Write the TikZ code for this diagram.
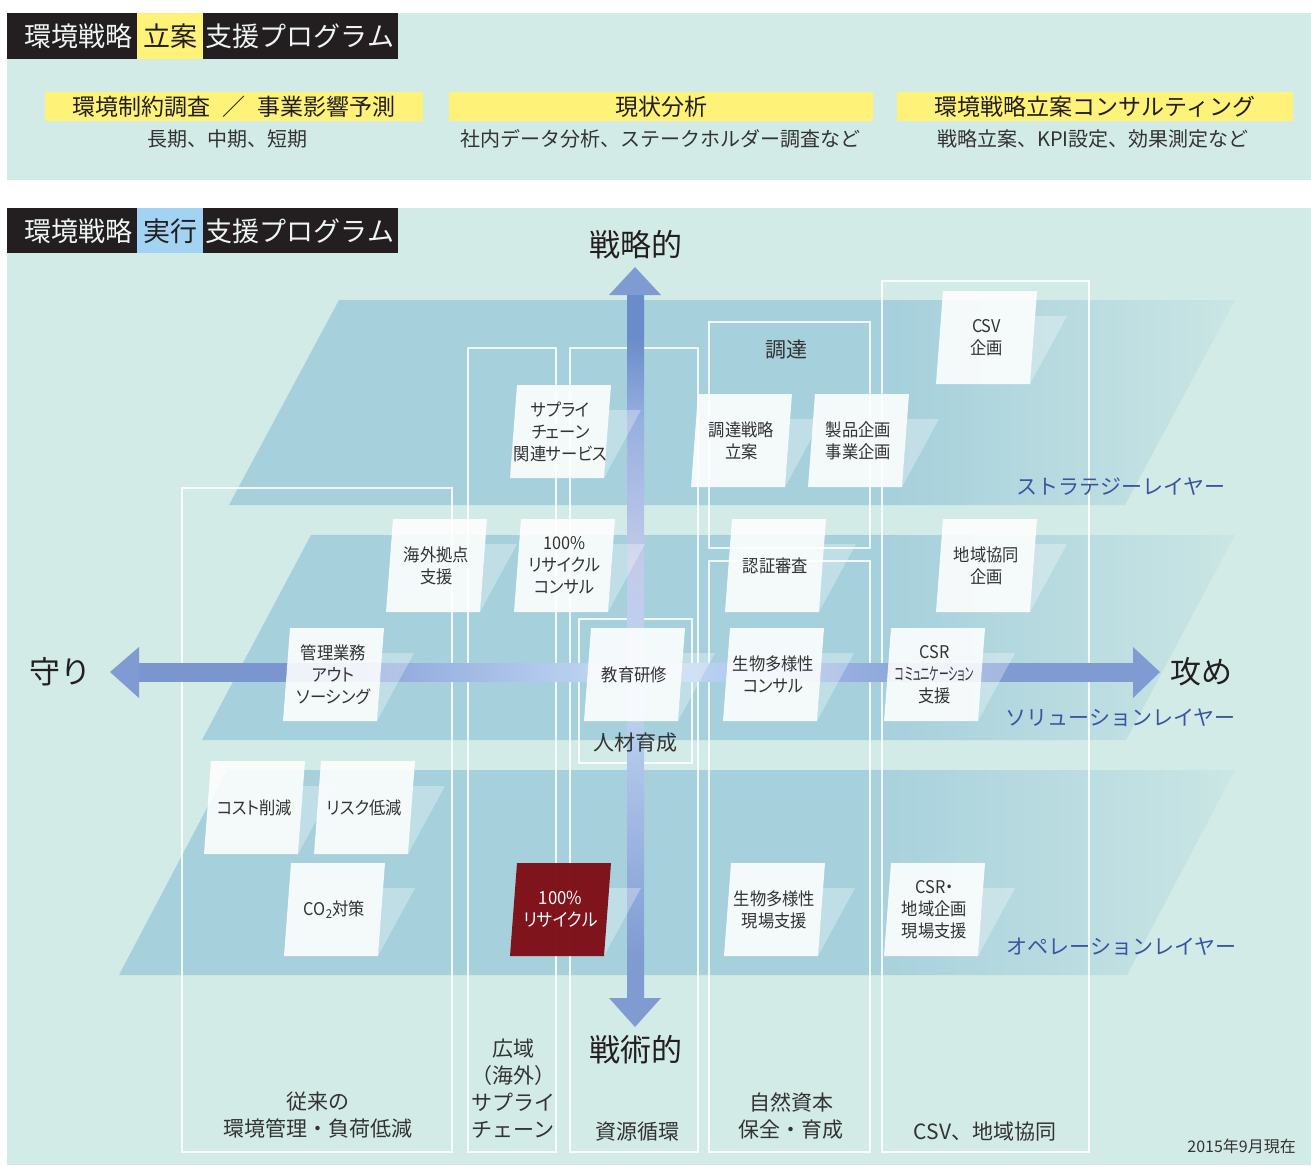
\documentclass[tikz,border=0pt]{standalone}
\usepackage{fontspec}
\usepackage{graphicx}
\usepackage{tikz}
\usetikzlibrary{positioning}
\setmainfont{Noto Sans CJK JP}
\newfontfamily\cardfont{Noto Sans CJK JP}[CharacterWidth=AlternateProportional,FakeStretch=0.93]

\definecolor{bgc}{HTML}{D3EBE6}
\definecolor{layerc}{HTML}{A6D0DC}
\colorlet{layerend}{layerc!20!bgc}
\definecolor{arrowc}{HTML}{7B96CE}
\definecolor{arrowm}{HTML}{97B0E0}
\definecolor{arrowl}{HTML}{BCD4F1}
\definecolor{arrowd}{HTML}{7F9BD2}
\definecolor{arrowdd}{HTML}{6A8CC8}
\definecolor{varrowa}{HTML}{A9C0E6}
\definecolor{varrowb}{HTML}{C3CAEA}
\definecolor{headc}{HTML}{7F9BD2}
\definecolor{yellowc}{HTML}{FFF278}
\definecolor{bluec}{HTML}{A3D3F3}
\definecolor{blackc}{HTML}{231F20}
\definecolor{textc}{HTML}{333333}
\definecolor{hdrtext}{HTML}{EEF5F3}
\definecolor{layertext}{HTML}{3A55A0}
\definecolor{redcard}{HTML}{7D0A13}

\pgfdeclarehorizontalshading{layerfade}{100bp}{color(0bp)=(layerc); color(58bp)=(layerc); color(75bp)=(layerend); color(100bp)=(layerend)}
\pgfdeclarehorizontalshading{hshaft}{100bp}{color(0bp)=(arrowc); color(33bp)=(arrowc); color(39bp)=(arrowm); color(48bp)=(arrowl); color(53bp)=(arrowl); color(60bp)=(arrowm); color(68bp)=(arrowd); color(100bp)=(arrowd)}
\pgfdeclareverticalshading{vshaft}{100bp}{color(0bp)=(arrowd); color(28bp)=(arrowd); color(40bp)=(varrowa); color(46bp)=(arrowl); color(56bp)=(varrowb); color(66bp)=(arrowm); color(72bp)=(arrowdd); color(100bp)=(arrowdd)}

% card: [style]{x of bottom left}{y of bottom}{name}{text}
\newcommand{\card}[5][cardbox]{%
  \fill[cardshadow] ({#2+99},{#3-68}) -- ({#2+131},{#3-68}) -- ({#2+94},{#3}) -- cycle;
  \fill[#1] ({#2},{#3}) -- ({#2+94},{#3}) -- ({#2+101},{#3-93}) -- ({#2+7},{#3-93}) -- cycle;
  \node[cardtext,#1 text] (#4) at ({#2+50.5},{#3-46.5}) {#5};}

\tikzset{
  hdr/.style={font=\fontsize{27}{30}\selectfont,text=hdrtext},
  bar/.style={fill=yellowc,minimum height=29pt,font=\fontsize{23}{26}\selectfont,text=blackc},
  sub/.style={font=\fontsize{20}{24}\selectfont},
  lbl/.style={font=\fontsize{21}{27}\selectfont,align=center},
  big/.style={font=\fontsize{31}{36}\selectfont,text=blackc},
  layerlbl/.style={font=\fontsize{21}{24}\selectfont,text=layertext,anchor=east},
  colframe/.style={draw=white,draw opacity=0.85,line width=2.5pt},
  cardbox/.style={fill=white,fill opacity=0.88},
  cardbox text/.style={},
  redbox/.style={fill=redcard,fill opacity=0.95},
  redbox text/.style={text=white,font=\cardfont\fontsize{18}{22}\selectfont},
  cardshadow/.style={fill=white,fill opacity=0.3},
  cardtext/.style={font=\cardfont\fontsize{17.5}{22}\selectfont,align=center}
}

\begin{document}
\begin{tikzpicture}[x=1pt,y=-1pt,every node/.style={text=textc,inner sep=0pt}]
  \useasboundingbox (0,0) rectangle (1311,1165);
  \fill[white] (0,0) rectangle (1311,1165);

  % planning programme
  \fill[bgc] (7,13) rectangle (1311,180);
  \fill[blackc] (7,13) rectangle (398,59);
  \fill[yellowc] (137,13) rectangle (203,59);
  \node[hdr] (pa) at (78,36) {環境戦略};
  \node[hdr,text=blackc] (pb) at (170,36) {立案};
  \node[hdr] (pc) at (300,36) {支援プログラム};

  \node[bar,minimum width=378pt] (plan1) at (234,106.5) {環境制約調査\hspace{12pt}／\hspace{12pt}事業影響予測};
  \node[bar,minimum width=424pt] (plan2) at (661,106.5) {現状分析};
  \node[bar,minimum width=396pt] (plan3) at (1095,106.5) {環境戦略立案コンサルティング};
  \node[sub] (sub1) at (227,139) {長期、中期、短期};
  \node[sub] (sub2) at (660,139) {社内データ分析、ステークホルダー調査など};
  \node[sub] (sub3) at (1093,139) {戦略立案、KPI設定、効果測定など};

  % execution programme
  \fill[bgc] (7,208) rectangle (1311,1165);
  \fill[blackc] (7,208) rectangle (398,253);
  \fill[bluec] (137,208) rectangle (203,253);
  \node[hdr] (ea) at (78,231) {環境戦略};
  \node[hdr,text=blackc] (eb) at (170,231) {実行};
  \node[hdr] (ec) at (300,231) {支援プログラム};

  % layers
  \shade[shading=layerfade] (339,300) -- (1235,300) -- (1125,505) -- (229,505) -- cycle;
  \shade[shading=layerfade] (311,535) -- (1235,535) -- (1126,740) -- (202,740) -- cycle;
  \shade[shading=layerfade] (227,770) -- (1235,770) -- (1127,975) -- (119,975) -- cycle;

  % columns
  \draw[colframe] (182,488) rectangle (452,1152);
  \draw[colframe] (468,348) rectangle (556,1152);
  \draw[colframe] (570,348) rectangle (698,1152);
  \draw[colframe] (709,322) rectangle (870,548);
  \draw[colframe] (709,561) rectangle (870,1152);
  \draw[colframe] (882,281) rectangle (1089,1152);
  \draw[colframe] (579,619) rectangle (692,763);

  % axes
  \coordinate (up) at (635,267);
  \coordinate (down) at (635,1027);
  \coordinate (left) at (110,672);
  \coordinate (right) at (1160,672);
  \shade[shading=vshaft] (627,295) rectangle (644,998);
  \fill[headc] (609,295) -- (up) -- (661,295) -- cycle;
  \fill[headc] (609,998) -- (down) -- (661,998) -- cycle;
  \shade[shading=hshaft] (139,663) rectangle (1133,681);
  \fill[headc] (139,647) -- (left) -- (139,698) -- cycle;
  \fill[headc] (1133,647) -- (right) -- (1133,698) -- cycle;

  % cards
  \card{510}{478}{supply}{サプライ\\チェーン\\関連サービス}
  \card{691}{487}{procplan}{調達戦略\\立案}
  \card{808}{487}{product}{製品企画\\事業企画}
  \card{936}{384}{csvplan}{CSV\\企画}
  \card{386}{612}{overseas}{海外拠点\\支援}
  \card{514}{612}{rcycons}{100\%\\リサイクル\\コンサル}
  \card{725}{612}{audit}{認証審査}
  \card{936}{612}{region}{地域協同\\企画}
  \card{283}{721}{outsrc}{管理業務\\アウト\\ソーシング}
  \card{584}{721}{training}{教育研修}
  \card{723}{721}{biocons}{生物多様性\\コンサル}
  \card{884}{721}{csrcom}{CSR\\\scalebox{0.6}[1]{コミュニケーション}\\支援}
  \card{204}{854}{cost}{コスト削減}
  \card{314}{854}{risk}{リスク低減}
  \card{284}{956}{cotwo}{CO\textsubscript{2}対策}
  \card[redbox]{510}{956}{recycle}{100\%\\リサイクル}
  \card{724}{956}{biosite}{生物多様性\\現場支援}
  \card{884}{956}{csrsite}{CSR・\\地域企画\\現場支援}

  % labels
  \node[big] (strat) at (636,245) {戦略的};
  \node[big] (tact) at (636,1050) {戦術的};
  \node[big] (defend) at (60,672) {守り};
  \node[big] (attack) at (1201,672) {攻め};
  \node[lbl] (proc) at (786,350) {調達};
  \node[lbl] (hr) at (635,743) {人材育成};
  \node[lbl] (col1) at (318,1115.5) {従来の\\環境管理・負荷低減};
  \node[lbl] (col2) at (513,1088.5) {広域\\（海外）\\サプライ\\チェーン};
  \node[lbl] (col3) at (637,1132) {資源循環};
  \node[lbl] (col4) at (791,1115.5) {自然資本\\保全・育成};
  \node[lbl] (col5) at (985,1132) {CSV、地域協同};
  \node[layerlbl] (lay1) at (1226,487) {ストラテジーレイヤー};
  \node[layerlbl] (lay2) at (1236,718) {ソリューションレイヤー};
  \node[layerlbl] (lay3) at (1237,947) {オペレーションレイヤー};
  \node[anchor=east,font=\fontsize{16}{18}\selectfont] (date) at (1296,1146) {2015年9月現在};
\end{tikzpicture}
\end{document}
